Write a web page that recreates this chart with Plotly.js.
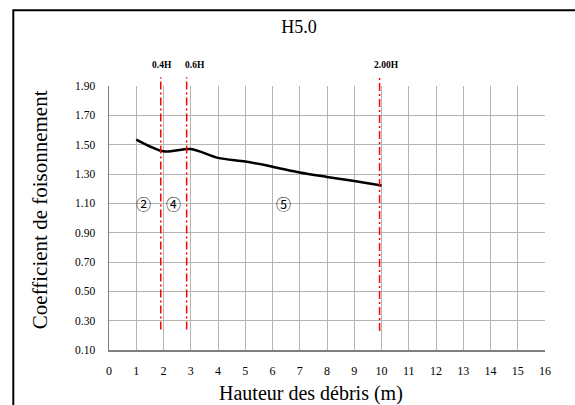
<!DOCTYPE html>
<html>
<head>
<meta charset="utf-8">
<script src="https://cdn.plot.ly/plotly-3.0.1.min.js"></script>
<style>html,body{margin:0;padding:0;background:#fff;}#chart{width:575px;height:405px;}</style>
</head>
<body>
<div id="chart"></div>
<script>
// Data
const heights = [1, 2, 3, 4, 5, 6, 7, 8, 9, 10];
const coefficients = [1.535, 1.455, 1.47, 1.41, 1.385, 1.35, 1.31, 1.28, 1.252, 1.222];

const limitLabels = ['0.4H', '0.6H', '2.00H'];
const limitX = [1.9, 2.85, 9.93];
const limitLabelX = [1.93, 3.15, 10.19];
const limitYBottom = [0.24, 0.24, 0.23];
const limitYTop = [1.96, 1.96, 1.96];

const zoneLabels = ['②', '④', '⑤'];
const zoneX = [1.25, 2.37, 6.4];
const zoneY = [1.10, 1.10, 1.10];

const xTicks = [0,1,2,3,4,5,6,7,8,9,10,11,12,13,14,15,16];
const yTicks = [0.10,0.30,0.50,0.70,0.90,1.10,1.30,1.50,1.70,1.90];
const yRange = [0.10, 1.90];

const serif = 'Liberation Serif, Times New Roman, serif';
const toPaperY = v => (v - yRange[0]) / (yRange[1] - yRange[0]);

const shapes = [
  // outer frame
  {type:'rect', xref:'paper', yref:'paper', x0:-0.2195, x1:1.3, y0:-0.4, y1:1.2865,
   line:{color:'#000', width:2}, fillcolor:'rgba(0,0,0,0)', layer:'above'}
];
limitX.forEach((x, i) => {
  shapes.push({type:'line', xref:'x', yref:'paper', x0:x, x1:x,
    y0:toPaperY(limitYBottom[i]), y1:toPaperY(limitYTop[i]),
    line:{color:'#ff0000', width:1.5, dash:'8px,3px,2px,3px'}, layer:'above'});
});

const annotations = [];
limitLabels.forEach((t, i) => {
  annotations.push({text:'<b>'+t+'</b>', xref:'x', yref:'paper', x:limitLabelX[i], y:1.08,
    showarrow:false, font:{family:serif, size:9.5, color:'#000'}, xanchor:'center', yanchor:'middle'});
});
zoneLabels.forEach((t, i) => {
  annotations.push({text:t, xref:'x', yref:'y', x:zoneX[i], y:zoneY[i],
    showarrow:false, font:{family:'Noto Sans CJK JP, DejaVu Sans, sans-serif', size:15, color:'#000'}, xanchor:'center', yanchor:'middle'});
});
annotations.push({text:'Hauteur des débris (m)', xref:'paper', yref:'paper', x:0.463, y:-0.165,
  showarrow:false, font:{family:serif, size:20, color:'#000'}, xanchor:'center', yanchor:'middle'});
annotations.push({text:'Coefficient de foisonnement', xref:'paper', yref:'paper', x:-0.158, y:0.53,
  showarrow:false, textangle:-90, font:{family:serif, size:21, color:'#000'}, xanchor:'center', yanchor:'middle'});

const trace = {
  x: heights, y: coefficients, type:'scatter', mode:'lines',
  line:{color:'#000', width:2.5, shape:'spline', smoothing:0.8},
  hoverinfo:'skip', showlegend:false
};

const layout = {
  width:575, height:405,
  margin:{l:109, r:30, t:86, b:55},
  paper_bgcolor:'#fff', plot_bgcolor:'#fff',
  showlegend:false,
  title:{text:'H5.0', font:{family:serif, size:18, color:'#000'},
    xref:'paper', x:0.436, xanchor:'center', yref:'container', y:0.933, yanchor:'middle'},
  xaxis:{range:[0,16], tickvals:xTicks, ticktext:xTicks.map(String),
    showgrid:true, gridcolor:'#b4b4b4', gridwidth:1,
    showline:true, linecolor:'#7f7f7f', linewidth:1.5,
    zeroline:false, ticks:'', ticklabelstandoff:9,
    tickfont:{family:serif, size:12, color:'#000'}, fixedrange:true},
  yaxis:{range:yRange, tickvals:yTicks, ticktext:yTicks.map(v => v.toFixed(2)),
    showgrid:true, gridcolor:'#b4b4b4', gridwidth:1,
    showline:true, linecolor:'#7f7f7f', linewidth:1.5,
    zeroline:false, ticks:'', ticklabelstandoff:10,
    tickfont:{family:serif, size:11.5, color:'#000'}, fixedrange:true},
  shapes:shapes,
  annotations:annotations
};

Plotly.newPlot('chart', [trace], layout, {displayModeBar:false, staticPlot:true});
</script>
</body>
</html>
